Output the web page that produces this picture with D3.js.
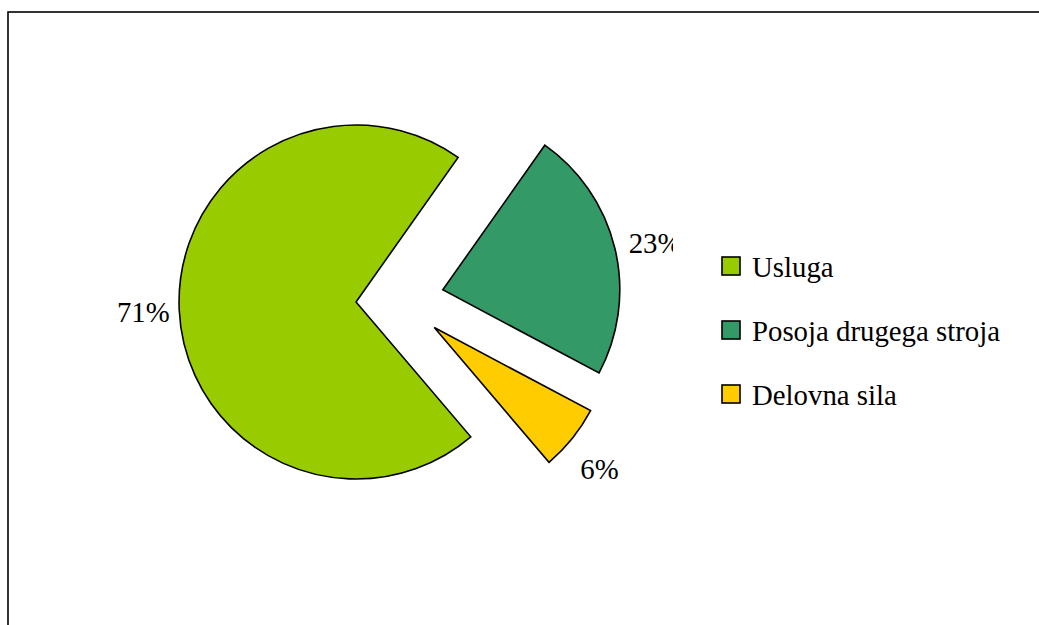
<!DOCTYPE html>
<html><head><meta charset="utf-8">
<script src="https://cdn.jsdelivr.net/npm/d3@7/dist/d3.min.js"></script>
<style>html,body{margin:0;padding:0;background:#fff;overflow:hidden}</style>
</head><body>
<script>
const categories = ["Usluga", "Posoja drugega stroja", "Delovna sila"];
const values = [71, 23, 6];
const labels = ["71%", "23%", "6%"];
const colors = ["#99CC00", "#339966", "#FFCC00"];

const W = 1039, H = 625;
const svg = d3.select("body").append("svg").attr("width", W).attr("height", H);
const font = "'Liberation Serif','Times New Roman',serif";
const fs = 28.8;

svg.append("rect").attr("x", 8).attr("y", 12).attr("width", 1200).attr("height", 800)
  .attr("fill", "#fff").attr("stroke", "#000").attr("stroke-width", 1.6);

const cx = 400, cy = 300, R = 177, explode = 44;
const startDeg = 139.6;
const pie = d3.pie().sort(null).value(d => d)
  .startAngle(startDeg * Math.PI / 180).endAngle((startDeg + 360) * Math.PI / 180);
const arcs = pie(values);
const arc = d3.arc().innerRadius(0).outerRadius(R);

const g = svg.append("g").attr("transform", `translate(${cx},${cy})`);
function dir(a) { const m = (a.startAngle + a.endAngle) / 2; return [Math.sin(m), -Math.cos(m)]; }

g.selectAll("path.slice").data(arcs).enter().append("path")
  .attr("class", "slice")
  .attr("transform", d => { const [x, y] = dir(d); return `translate(${x * explode},${y * explode})`; })
  .attr("d", arc)
  .attr("fill", (d, i) => colors[i])
  .attr("stroke", "#000").attr("stroke-width", 1.6).attr("stroke-linejoin", "miter");

svg.append("clipPath").attr("id", "lblclip").append("rect")
  .attr("x", 0).attr("y", 0).attr("width", 673).attr("height", H);

const nudge = [[-1, 0], [6, 2], [0, 9]];
svg.append("g").attr("clip-path", "url(#lblclip)")
  .append("g").attr("transform", `translate(${cx},${cy})`)
  .selectAll("text").data(arcs).enter().append("text")
  .attr("x", (d, i) => { const [x] = dir(d); return x * (explode + R + 35) + nudge[i][0]; })
  .attr("y", (d, i) => { const [, y] = dir(d); return y * (explode + R + 35) + nudge[i][1]; })
  .attr("dy", "0.35em")
  .attr("text-anchor", "middle")
  .attr("font-family", font).attr("font-size", fs).attr("fill", "#000")
  .text((d, i) => labels[i]);

const leg = svg.append("g").attr("transform", "translate(722,257)");
const li = leg.selectAll("g").data(categories).enter().append("g")
  .attr("transform", (d, i) => `translate(0,${i * 64})`);
li.append("rect").attr("width", 18).attr("height", 18)
  .attr("fill", (d, i) => colors[i]).attr("stroke", "#000").attr("stroke-width", 1.6);
li.append("text").attr("x", 30).attr("y", 20)
  .attr("font-family", font).attr("font-size", fs).attr("fill", "#000")
  .text(d => d);
</script>
</body></html>
